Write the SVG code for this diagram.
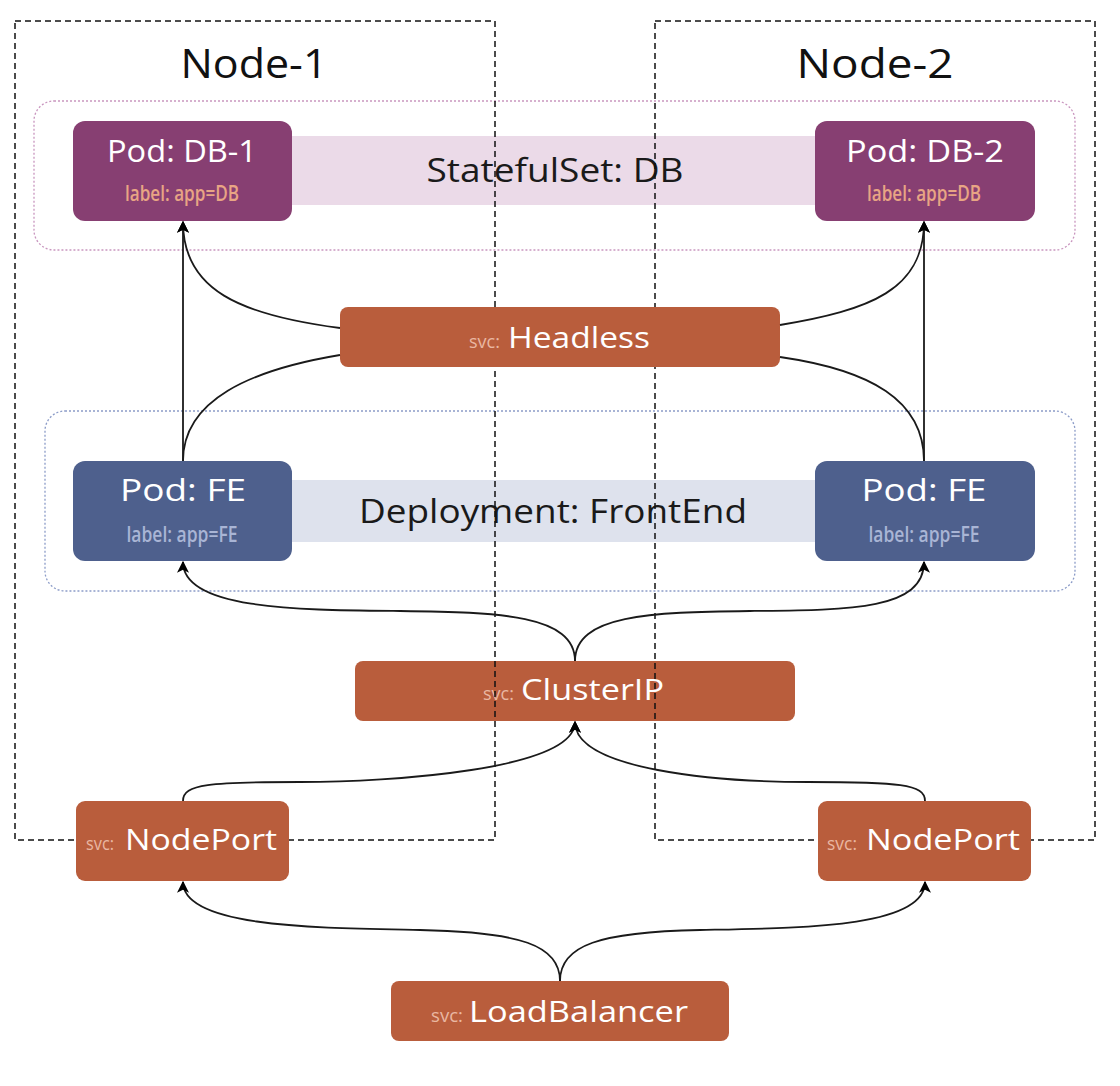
<svg xmlns="http://www.w3.org/2000/svg" width="1120" height="1086" viewBox="0 0 1120 1086">
  <style>
    .node-box { fill: none; stroke: #111; stroke-width: 1.5; stroke-dasharray: 6 4; }
    .title { font-family: "Open Sans", "Liberation Sans", sans-serif; font-size: 41px; fill: #111; text-anchor: middle; }
    .group-db { fill: none; stroke: #c996bf; stroke-width: 1.3; stroke-dasharray: 2 2; }
    .group-fe { fill: none; stroke: #8c9cc8; stroke-width: 1.3; stroke-dasharray: 2 2; }
    .band-db { fill: #ebdae8; }
    .band-fe { fill: #dee2ed; }
    .band-text { font-family: "Open Sans", "Liberation Sans", sans-serif; font-size: 32px; fill: #1a1a1a; text-anchor: middle; }
    .pod-db { fill: #873f72; }
    .pod-fe { fill: #4e608d; }
    .svc { fill: #b95d3c; }
    .pod-title { font-family: "Open Sans", "Liberation Sans", sans-serif; font-size: 31px; fill: #ffffff; text-anchor: middle; }
    .lbl { font-family: "Open Sans", "Liberation Sans", sans-serif; font-size: 21px; font-weight: 600; text-anchor: middle; }
    .lbl-db { fill: #e8a584; }
    .lbl-fe { fill: #a9b5d5; }
    .svc-pre { font-family: "Open Sans", "Liberation Sans", sans-serif; font-size: 18px; fill: #e9b7a2; }
    .svc-name { font-family: "Open Sans", "Liberation Sans", sans-serif; font-size: 30px; fill: #ffffff; }
    .conn { fill: none; stroke: #1a1a1a; stroke-width: 1.8; }
  </style>
  <defs>
    <marker id="arrow" viewBox="0 0 10 10" refX="9" refY="5" markerWidth="13" markerHeight="12" markerUnits="userSpaceOnUse" orient="auto">
      <path d="M0,0 L10,5 L0,10 L2.5,5 Z" fill="#000"/>
    </marker>
  </defs>

  <rect width="1120" height="1086" fill="#ffffff"/>

  <!-- controller groups -->
  <g id="statefulset-db">
    <rect class="group-db" x="34" y="101" width="1041" height="149" rx="20"/>
    <rect class="band-db" x="292" y="136" width="523" height="69"/>
    <text class="band-text" x="555" y="182" textLength="257" lengthAdjust="spacingAndGlyphs">StatefulSet: DB</text>
  </g>
  <g id="deployment-frontend">
    <rect class="group-fe" x="45" y="411" width="1030" height="180" rx="20"/>
    <rect class="band-fe" x="292" y="480" width="523" height="62"/>
    <text class="band-text" x="553" y="523" textLength="388" lengthAdjust="spacingAndGlyphs">Deployment: FrontEnd</text>
  </g>

  <g id="svc-clusterip">
    <rect class="svc" x="355" y="661" width="440" height="60" rx="8"/>
    <text class="svc-pre" x="483" y="700" textLength="31" lengthAdjust="spacingAndGlyphs">svc:</text>
    <text class="svc-name" x="521" y="700" textLength="143" lengthAdjust="spacingAndGlyphs">ClusterIP</text>
  </g>

  <!-- cluster nodes -->
  <g id="node-1">
    <rect class="node-box" x="15" y="21" width="480" height="819"/>
    <text class="title" x="254" y="78" textLength="147" lengthAdjust="spacingAndGlyphs">Node-1</text>
  </g>
  <g id="node-2">
    <rect class="node-box" x="655" y="21" width="440" height="819"/>
    <text class="title" x="875" y="78" textLength="157" lengthAdjust="spacingAndGlyphs">Node-2</text>
  </g>

  <g id="svc-headless">
    <rect class="svc" x="340" y="307" width="440" height="60" rx="8"/>
    <text class="svc-pre" x="469" y="348" textLength="31" lengthAdjust="spacingAndGlyphs">svc:</text>
    <text class="svc-name" x="508" y="348" textLength="142" lengthAdjust="spacingAndGlyphs">Headless</text>
  </g>

  <g id="pod-db-1">
    <rect class="pod-db" x="73" y="121" width="219" height="100" rx="12"/>
    <text class="pod-title" x="182" y="162" textLength="150" lengthAdjust="spacingAndGlyphs">Pod: DB-1</text>
    <text class="lbl lbl-db" x="182" y="201" textLength="114" lengthAdjust="spacingAndGlyphs">label: app=DB</text>
  </g>
  <g id="pod-db-2">
    <rect class="pod-db" x="815" y="121" width="220" height="100" rx="12"/>
    <text class="pod-title" x="925" y="162" textLength="158" lengthAdjust="spacingAndGlyphs">Pod: DB-2</text>
    <text class="lbl lbl-db" x="924" y="201" textLength="114" lengthAdjust="spacingAndGlyphs">label: app=DB</text>
  </g>
  <g id="pod-fe-1">
    <rect class="pod-fe" x="73" y="461" width="219" height="100" rx="12"/>
    <text class="pod-title" x="183" y="501" textLength="126" lengthAdjust="spacingAndGlyphs">Pod: FE</text>
    <text class="lbl lbl-fe" x="182" y="542" textLength="111" lengthAdjust="spacingAndGlyphs">label: app=FE</text>
  </g>
  <g id="pod-fe-2">
    <rect class="pod-fe" x="815" y="461" width="220" height="100" rx="12"/>
    <text class="pod-title" x="924" y="501" textLength="125" lengthAdjust="spacingAndGlyphs">Pod: FE</text>
    <text class="lbl lbl-fe" x="924" y="542" textLength="111" lengthAdjust="spacingAndGlyphs">label: app=FE</text>
  </g>

  <g id="svc-nodeport-1">
    <rect class="svc" x="76" y="801" width="213" height="80" rx="9"/>
    <text class="svc-pre" x="86" y="850" textLength="28" lengthAdjust="spacingAndGlyphs">svc:</text>
    <text class="svc-name" x="125" y="850" textLength="152" lengthAdjust="spacingAndGlyphs">NodePort</text>
  </g>
  <g id="svc-nodeport-2">
    <rect class="svc" x="818" y="801" width="213" height="80" rx="9"/>
    <text class="svc-pre" x="827" y="850" textLength="30" lengthAdjust="spacingAndGlyphs">svc:</text>
    <text class="svc-name" x="866" y="850" textLength="154" lengthAdjust="spacingAndGlyphs">NodePort</text>
  </g>
  <g id="svc-loadbalancer">
    <rect class="svc" x="391" y="981" width="338" height="60" rx="8"/>
    <text class="svc-pre" x="431" y="1022" textLength="32" lengthAdjust="spacingAndGlyphs">svc:</text>
    <text class="svc-name" x="469" y="1022" textLength="219" lengthAdjust="spacingAndGlyphs">LoadBalancer</text>
  </g>

  <!-- connectors -->
  <g id="connectors">
    <path class="conn" d="M183,461 L183,222" marker-end="url(#arrow)"/>
    <path class="conn" d="M924,461 L924,222" marker-end="url(#arrow)"/>
    <path class="conn" d="M340,328 C240,315 183,290 183,222" marker-end="url(#arrow)"/>
    <path class="conn" d="M780,325 C870,310 924,290 924,222" marker-end="url(#arrow)"/>
    <path class="conn" d="M340,355 C250,370 183,400 183,461"/>
    <path class="conn" d="M780,357 C870,370 924,400 924,461"/>
    <path class="conn" d="M575,661 C575,615 500,612 400,611 S183,610 183,562" marker-end="url(#arrow)"/>
    <path class="conn" d="M575,661 C575,615 650,612 750,611 S924,610 924,562" marker-end="url(#arrow)"/>
    <path class="conn" d="M183,801 C183,784 210,782 300,782 S575,770 575,722" marker-end="url(#arrow)"/>
    <path class="conn" d="M925,801 C925,784 898,782 808,782 S575,770 575,722" marker-end="url(#arrow)"/>
    <path class="conn" d="M560,981 C560,945 520,932 420,930 S183,928 183,882" marker-end="url(#arrow)"/>
    <path class="conn" d="M560,981 C560,945 600,932 700,930 S925,928 925,882" marker-end="url(#arrow)"/>
  </g>
</svg>
